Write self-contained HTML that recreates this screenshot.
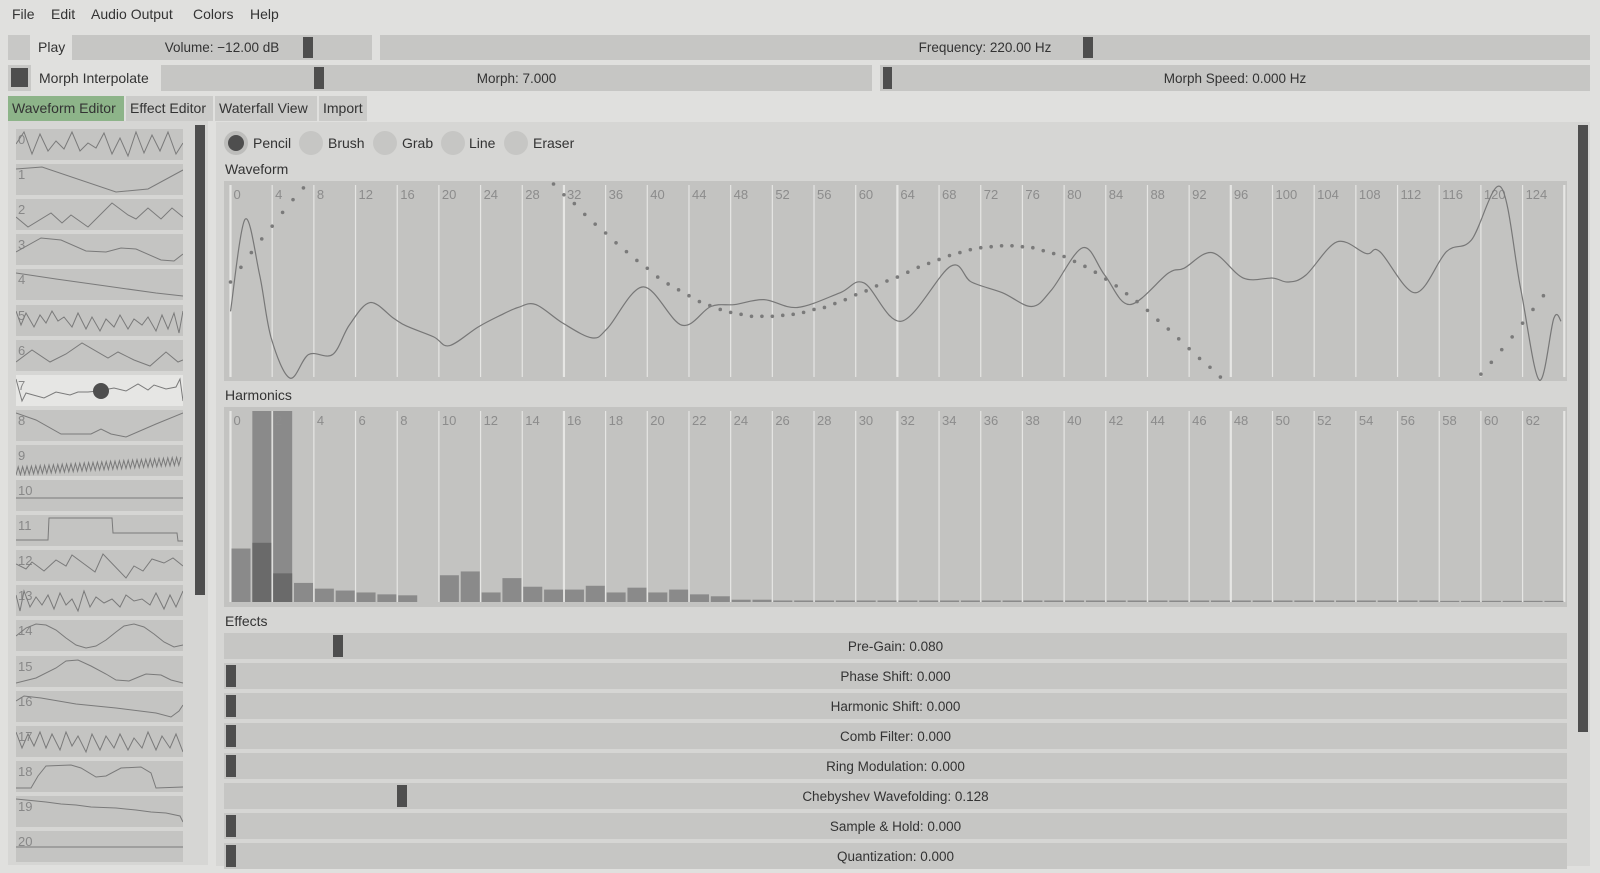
<!DOCTYPE html>
<html><head><meta charset="utf-8">
<style>
*{box-sizing:border-box;margin:0;padding:0}
body{width:1600px;height:873px;background:#e0e0de;font-family:"Liberation Sans",sans-serif;font-size:14px;color:#333;position:relative;overflow:hidden}
.a{position:absolute}
.menu{top:6px;font-size:14px}
.sl{position:absolute;background:#c6c6c4;display:flex;align-items:center;justify-content:center;font-size:13.5px;color:#333}
.hd{position:absolute;background:#4e4e4e;width:10px}
.tab{position:absolute;top:96px;height:25px;background:#cbcbc9;font-size:14px;line-height:25px;padding-left:4px}
.thumb{position:absolute;left:16px;width:167px;height:31px;background:#c4c4c2}
.thumb span{position:absolute;left:2px;top:3px;font-size:13px;color:#888}
.tool{position:absolute;top:131px;width:24px;height:24px;border-radius:50%;background:#c6c6c4}
.tl{position:absolute;top:135px;font-size:14px}
</style></head><body>
<div class="a menu" style="left:12px">File</div>
<div class="a menu" style="left:51px">Edit</div>
<div class="a menu" style="left:91px">Audio Output</div>
<div class="a menu" style="left:193px">Colors</div>
<div class="a menu" style="left:250px">Help</div>

<div class="a" style="left:8px;top:35px;width:22px;height:25px;background:#c8c8c6"></div>
<div class="a" style="left:38px;top:39px">Play</div>
<div class="sl" style="left:72px;top:35px;width:300px;height:25px">Volume: −12.00 dB<div class="hd" style="left:231px;top:2px;height:21px"></div></div>
<div class="sl" style="left:380px;top:35px;width:1210px;height:25px">Frequency: 220.00 Hz<div class="hd" style="left:703px;top:2px;height:21px"></div></div>

<div class="a" style="left:8px;top:65px;width:23px;height:26px;background:#c8c8c6"><div class="a" style="left:3px;top:3px;width:17px;height:19px;background:#4e4e4e"></div></div>
<div class="a" style="left:39px;top:70px">Morph Interpolate</div>
<div class="sl" style="left:161px;top:65px;width:711px;height:26px">Morph: 7.000<div class="hd" style="left:153px;top:2px;height:22px"></div></div>
<div class="sl" style="left:880px;top:65px;width:710px;height:26px">Morph Speed: 0.000 Hz<div class="hd" style="left:3px;top:2px;height:22px;width:9px"></div></div>

<div class="tab" style="left:8px;width:116px;background:#8db489">Waveform Editor</div>
<div class="tab" style="left:126px;width:87px">Effect Editor</div>
<div class="tab" style="left:215px;width:102px">Waterfall View</div>
<div class="tab" style="left:319px;width:48px">Import</div>

<div class="a" style="left:8px;top:121px;width:200px;height:744px;background:#d6d6d4"></div>
<div class="a" style="left:195px;top:125px;width:10px;height:470px;background:#4e4e4e"></div>
<div id="thumbs"></div>

<div class="a" style="left:216px;top:122px;width:1374px;height:744px;background:#d6d6d4"></div>
<div class="a" style="left:1578px;top:125px;width:10px;height:607px;background:#4e4e4e"></div>

<div class="tool" style="left:224px;background:#bdbdbb"><div class="a" style="left:4px;top:4px;width:16px;height:16px;border-radius:50%;background:#4e4e4e"></div></div>
<div class="tl" style="left:253px">Pencil</div>
<div class="tool" style="left:299px"></div>
<div class="tl" style="left:328px">Brush</div>
<div class="tool" style="left:373px"></div>
<div class="tl" style="left:402px">Grab</div>
<div class="tool" style="left:441px"></div>
<div class="tl" style="left:469px">Line</div>
<div class="tool" style="left:504px"></div>
<div class="tl" style="left:533px">Eraser</div>

<div class="a" style="left:225px;top:161px">Waveform</div>
<svg class="a" id="wave" style="left:224px;top:181px" width="1343" height="200" viewBox="224 181 1343 200"></svg>
<div class="a" style="left:225px;top:387px">Harmonics</div>
<svg class="a" id="harm" style="left:224px;top:407px" width="1343" height="200" viewBox="224 407 1343 200"></svg>
<div class="a" style="left:225px;top:613px">Effects</div>
<div id="fx"></div>

<script>
const NS="http://www.w3.org/2000/svg";
// ---- waveform data ----
const waveIdx=[0,1.4,2.8,3.9,5.7,7.5,9.8,11.4,13.4,15.65,16.9,19.5,21,23.75,25.9,27.6,29.3,31.9,34.7,36.2,39.6,43.3,46.1,48.4,51.2,54.4,58.5,60.8,64.4,69.1,71.1,74.1,76.9,78.8,81.8,83.9,86.3,90,91.5,94.2,97.2,100,101.5,103.2,106.2,109,110.3,113.7,116.7,119.1,121.9,123.8,125.6,127,127.7];
const waveVal=[-0.30,0.64,0.07,-0.57,-0.98,-0.74,-0.74,-0.44,-0.21,-0.37,-0.45,-0.56,-0.65,-0.46,-0.34,-0.26,-0.23,-0.42,-0.57,-0.47,-0.05,-0.44,-0.25,-0.23,-0.18,-0.26,-0.11,-0.01,-0.40,0.16,0.0,-0.11,-0.25,-0.08,0.35,0.07,-0.23,0.09,0.14,0.30,0.04,0.04,0.0,0.07,0.41,0.29,0.31,-0.11,0.31,0.43,0.97,-0.06,-1.0,-0.37,-0.40];
const dotVal=[0,0.15,0.30,0.44,0.57,0.71,0.84,0.96,null,null,null,null,null,null,null,null,null,null,null,null,null,null,null,null,null,null,null,null,null,null,null,1.0,0.89,0.80,0.69,0.59,0.50,0.40,0.31,0.22,0.14,0.05,-0.02,-0.08,-0.14,-0.20,-0.24,-0.28,-0.31,-0.33,-0.35,-0.35,-0.35,-0.34,-0.33,-0.31,-0.28,-0.26,-0.22,-0.18,-0.13,-0.09,-0.04,0.01,0.05,0.10,0.15,0.19,0.23,0.27,0.30,0.33,0.35,0.36,0.37,0.37,0.36,0.35,0.32,0.29,0.26,0.21,0.16,0.10,0.03,-0.04,-0.12,-0.20,-0.29,-0.39,-0.48,-0.58,-0.68,-0.78,-0.87,-0.97,null,null,null,null,null,null,null,null,null,null,null,null,null,null,null,null,null,null,null,null,null,null,null,null,-0.94,-0.82,-0.69,-0.56,-0.42,-0.28,-0.14,null];
const waveTicks=[0,4,8,12,16,20,24,28,32,36,40,44,48,52,56,60,64,68,72,76,80,84,88,92,96,100,104,108,112,116,120,124];
// ---- harmonics data ----
const harmMag=[0.28,1,1,0.10,0.07,0.06,0.05,0.04,0.035,0,0.14,0.16,0.05,0.125,0.08,0.065,0.065,0.085,0.05,0.075,0.05,0.065,0.04,0.03,0.012,0.012,0.008,0.008,0.008,0.008,0.008,0.008,0.008,0.008,0.008,0.008,0.008,0.008,0.008,0.008,0.008,0.008,0.008,0.008,0.008,0.008,0.008,0.008,0.008,0.008,0.008,0.008,0.008,0.008,0.008,0.008,0.008,0.008,0.006,0.006,0.006,0.006,0.006,0.006];
const harmDark=[0,0.31,0.15];
const harmTicks=[0,2,4,6,8,10,12,14,16,18,20,22,24,26,28,30,32,34,36,38,40,42,44,46,48,50,52,54,56,58,60,62];
// ---- effects ----
const fxNames=["Pre-Gain: 0.080","Phase Shift: 0.000","Harmonic Shift: 0.000","Comb Filter: 0.000","Ring Modulation: 0.000","Chebyshev Wavefolding: 0.128","Sample & Hold: 0.000","Quantization: 0.000"];
const fxVals=[0.080,0,0,0,0,0.128,0,0];

const wx=i=>230.5+i*10.42, wy=v=>282-v*98;
const hx=i=>230.5+i*20.84, hy=v=>602-v*191;
function mk(t,a,p){const e=document.createElementNS(NS,t);for(const k in a)e.setAttribute(k,a[k]);p.appendChild(e);return e;}

const W=document.getElementById('wave');
mk('rect',{x:224,y:181,width:1343,height:200,fill:'#c3c3c1'},W);
for(let k=0;k<=128;k+=4){const l=mk('line',{x1:wx(k),x2:wx(k),y1:185,y2:377,stroke:'#e6e6e4','stroke-width':k%32==0?2.2:1.2},W);

}
waveTicks.forEach(t=>{const e=mk('text',{x:wx(t)+3,y:199,fill:'#8c8c8c','font-size':13,'font-family':'Liberation Sans, sans-serif'},W);e.textContent=t;

});
const pts=waveIdx.map((t,i)=>[wx(t),wy(waveVal[i])]);
let d='M'+pts[0][0]+','+pts[0][1];
for(let i=0;i<pts.length-1;i++){const p0=pts[Math.max(0,i-1)],p1=pts[i],p2=pts[i+1],p3=pts[Math.min(pts.length-1,i+2)];
d+=' C'+(p1[0]+(p2[0]-p0[0])/6)+','+(p1[1]+(p2[1]-p0[1])/6)+' '+(p2[0]-(p3[0]-p1[0])/6)+','+(p2[1]-(p3[1]-p1[1])/6)+' '+p2[0]+','+p2[1];}
const wl=mk('path',{d:d,fill:'none',stroke:'#777','stroke-width':1.2},W);


dotVal.forEach((v,i)=>{if(v===null)return;const c=mk('circle',{cx:wx(i),cy:wy(v),r:1.8,fill:'#7a7a7a'},W);

});

const H=document.getElementById('harm');
mk('rect',{x:224,y:407,width:1343,height:200,fill:'#c3c3c1'},H);
for(let k=0;k<=64;k+=2){const l=mk('line',{x1:hx(k),x2:hx(k),y1:411,y2:602,stroke:'#e6e6e4','stroke-width':k%16==0?2.2:1.2},H);

}
harmMag.forEach((v,i)=>{const b=mk('rect',{x:hx(i)+1,y:hy(v),width:19,height:602-hy(v),fill:'#8a8a8a'},H);

});
harmDark.forEach((v,i)=>{if(!v)return;const b=mk('rect',{x:hx(i)+1,y:hy(v),width:19,height:602-hy(v),fill:'#6a6a6a'},H);

});
harmTicks.forEach(t=>{const e=mk('text',{x:hx(t)+3,y:425,fill:'#8c8c8c','font-size':13,'font-family':'Liberation Sans, sans-serif'},H);e.textContent=t;

});

const FX=document.getElementById('fx');
fxNames.forEach((n,i)=>{const s=document.createElement('div');s.className='sl';
s.style.cssText='left:224px;top:'+(633+30*i)+'px;width:1343px;height:26px';s.textContent=n;


const h=document.createElement('div');h.className='hd';h.style.cssText='left:'+(2+fxVals[i]*1333)+'px;top:2px;height:22px';


s.appendChild(h);FX.appendChild(s);});

const thumbPts=[
"0,15 8,3 16,25 24,5 32,22 40,12 48,20 56,3 64,22 72,14 80,19 88,4 96,25 104,9 112,27 120,3 128,24 136,6 144,22 152,3 160,25 167,14",
"0,5 26,3 100,28 132,25 167,6",
"0,18 12,28 35,14 46,24 55,16 72,28 96,4 112,16 120,20 132,9 145,20 156,9 167,18",
"0,18 25,4 45,6 70,17 90,18 105,14 120,15 145,26 158,27 167,20",
"0,4 40,10 90,17 140,24 167,27",
"0,6 5,20 10,8 18,22 24,10 30,18 36,6 42,16 48,12 56,22 62,8 70,24 76,12 84,26 90,14 98,22 104,10 112,24 118,14 126,20 132,12 140,26 146,10 152,24 158,8 163,28 167,6",
"0,22 16,10 34,22 50,14 66,3 92,18 102,12 118,20 134,26 150,12 162,22 167,20",
"0,4 6,26 10,18 28,23 40,17 54,20 62,17 72,17 82,16 98,13 110,16 122,9 132,15 138,10 150,14 160,12 164,4 167,26",
"0,3 20,10 45,24 75,24 85,19 95,24 110,27 140,14 167,3",
"",
"0,18 167,18",
"0,25 32,25 33,3 96,3 97,18 161,18 162,26 167,26",
"0,14 10,19 16,12 28,21 40,10 50,16 56,5 79,22 87,4 110,28 118,16 127,21 136,9 148,13 157,8 167,16",
"0,10 4,26 8,6 14,22 20,12 26,20 32,10 38,24 44,8 50,20 56,14 62,26 68,6 74,22 80,12 88,18 96,14 104,22 110,10 118,16 126,14 134,20 140,8 148,24 154,10 160,22 167,6",
"0,16 10,8 20,4 30,5 40,10 50,18 60,25 70,28 80,26 90,20 100,12 108,6 118,4 128,7 138,14 148,22 158,27 167,25",
"0,27 20,22 40,12 50,5 62,4 75,10 90,18 100,24 113,25 125,20 130,18 145,19 155,24 167,27",
"0,10 8,5 25,7 60,13 100,17 140,22 155,26 163,20 167,14",
"0,6 6,22 12,8 18,20 24,6 30,22 36,8 44,24 50,6 56,20 62,10 70,26 76,8 84,24 90,10 98,22 104,8 112,24 118,12 126,22 132,6 140,24 146,10 154,22 160,8 167,26",
"0,27 15,27 22,15 30,5 55,4 65,7 80,16 90,15 105,7 125,6 135,12 140,27 167,26",
"0,3 30,6 45,8 60,9 75,11 100,12 120,14 135,16 150,17 164,20 167,26",
"0,16 167,16"];
(function(){let z='';for(let x=0,k=0;x<=167;x+=2.2,k++){z+=x.toFixed(1)+','+((k%2?22:30)-x*0.06).toFixed(1)+' ';}thumbPts[9]=z;})();
const TH=document.getElementById('thumbs');
thumbPts.forEach((p,i)=>{const t=document.createElement('div');t.className='thumb';t.style.top=(129+i*35.1)+'px';
if(i===7)t.style.background='#e6e6e4';


t.innerHTML='<span>'+i+'</span><svg width="167" height="31" style="position:absolute;left:0;top:0"><polyline points="'+p+'" fill="none" stroke="#7a7a7a" stroke-width="1"/>'+(i===7?'<circle cx="85" cy="16" r="8" fill="#4e4e4e"/>':'')+'</svg>';
TH.appendChild(t);});
</script>
</body></html>
